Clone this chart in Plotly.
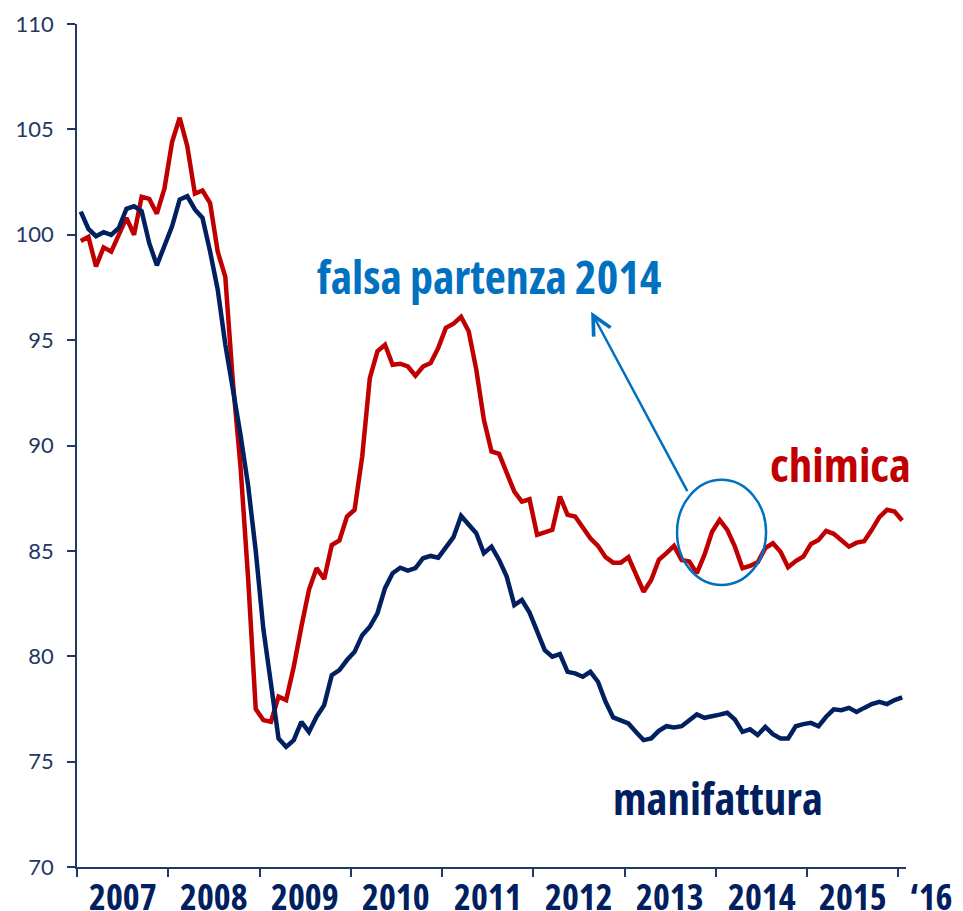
import numpy as np
import pandas as pd
import plotly.graph_objects as go

months = [p.strftime("%Y-%m") for p in pd.period_range("2007-01", "2016-01", freq="M")]

chimica = [
    99.7, 99.9, 98.5, 99.4, 99.2, 99.95, 100.8, 100.0, 101.8, 101.7, 101.0, 102.2,
    104.4, 105.55, 104.2, 101.95, 102.1, 101.5, 99.2, 98.0, 93.0, 89.0, 83.7, 77.5,
    76.97, 76.89, 78.08, 77.92, 79.5, 81.4, 83.15, 84.18, 83.67, 85.28, 85.49, 86.63,
    86.95, 89.48, 93.2, 94.47, 94.78, 93.83, 93.88, 93.75, 93.31, 93.75, 93.91, 94.63,
    95.58, 95.78, 96.1, 95.42, 93.6, 91.22, 89.72, 89.6, 88.77, 87.81, 87.34, 87.45,
    85.76, 85.87, 86.0, 87.58, 86.71, 86.63, 86.15, 85.6, 85.24, 84.7, 84.44, 84.44,
    84.7, 83.86, 83.06, 83.62, 84.57, 84.89, 85.24, 84.57, 84.49, 83.94, 84.81, 85.91,
    86.47, 86.0, 85.2, 84.18, 84.29, 84.46, 85.13, 85.36, 84.96, 84.22, 84.52, 84.73,
    85.33, 85.52, 85.95, 85.81, 85.52, 85.2, 85.39, 85.46, 86.0, 86.6, 86.95, 86.87,
    86.44,
]

manifattura = [
    101.1, 100.28, 99.93, 100.12, 99.99, 100.33, 101.23, 101.35, 101.12, 99.6, 98.55, 99.45,
    100.4, 101.67, 101.83, 101.2, 100.8, 99.2, 97.4, 94.8, 92.8, 90.5, 88.1, 85.0,
    81.3, 78.6, 76.1, 75.7, 76.02, 76.89, 76.41, 77.13, 77.68, 79.1, 79.34, 79.82,
    80.21, 81.0, 81.4, 82.04, 83.23, 83.94, 84.2, 84.06, 84.18, 84.65, 84.76, 84.68,
    85.2, 85.65, 86.66, 86.28, 85.84, 84.89, 85.2, 84.57, 83.78, 82.43, 82.67, 82.07,
    81.12, 80.29, 79.98, 80.1, 79.26, 79.19, 79.03, 79.26, 78.79, 77.84, 77.1, 76.94,
    76.81, 76.41, 76.02, 76.1, 76.46, 76.68, 76.62, 76.68, 76.97, 77.24, 77.08, 77.18,
    77.23, 77.32, 77.0, 76.41, 76.53, 76.26, 76.65, 76.3, 76.1, 76.1, 76.68, 76.78,
    76.84, 76.68, 77.13, 77.48, 77.44, 77.55, 77.36, 77.55, 77.73, 77.84, 77.73, 77.92,
    78.05,
]

year_labels = ["2007", "2008", "2009", "2010", "2011", "2012", "2013", "2014", "2015"]
last_label = "\u201816"
y_ticks = [70, 75, 80, 85, 90, 95, 100, 105, 110]

NAVY = "#002060"
RED = "#c00000"
BLUE = "#0070c0"
AXIS = "#1f3864"
COND = "Open Sans, sans-serif"


def cond(txt):
    return f"<span style='font-stretch:condensed'><b>{txt}</b></span>"


x = np.arange(len(months))

fig = go.Figure()
fig.add_trace(go.Scatter(x=x, y=chimica, mode="lines", name="chimica",
                         line=dict(color=RED, width=4.5), customdata=months))
fig.add_trace(go.Scatter(x=x, y=manifattura, mode="lines", name="manifattura",
                         line=dict(color=NAVY, width=4.5), customdata=months))

n = len(months)
year_bounds = [-0.5 + 12 * k for k in range(len(year_labels) + 1)]

fig.update_layout(
    width=955, height=903,
    margin=dict(l=69, r=57, t=16, b=44),
    paper_bgcolor="white", plot_bgcolor="white",
    showlegend=False,
    xaxis=dict(range=[-0.5, n - 0.5], showgrid=False, zeroline=False, automargin=False,
               showline=True, linecolor=AXIS, linewidth=1.5,
               tickmode="array", tickvals=year_bounds, showticklabels=False,
               ticks="outside", ticklen=8, tickwidth=1.5, tickcolor=AXIS),
    yaxis=dict(range=[70, 110], showgrid=False, zeroline=False, automargin=False,
               showline=True, linecolor=AXIS, linewidth=1.5,
               tickmode="array", tickvals=y_ticks,
               ticks="outside", ticklen=8, tickwidth=1.5, tickcolor=AXIS,
               ticklabelstandoff=9,
               tickfont=dict(family="Lato, Open Sans, sans-serif", size=22, color=AXIS)),
)

# Year labels centred between year boundaries
for k, lab in enumerate(year_labels):
    fig.add_annotation(x=5.5 + 12 * k, y=0, xref="x", yref="paper", text=cond(lab),
                       showarrow=False, xanchor="center", yanchor="middle", yshift=-29,
                       font=dict(family=COND, size=36, color=NAVY))
fig.add_annotation(x=1.058, y=0, xref="paper", yref="paper", text=cond(last_label),
                   showarrow=False, xanchor="right", yanchor="middle", yshift=-29,
                   font=dict(family=COND, size=36, color=NAVY))

# Series labels
fig.add_annotation(x=99.9, y=89.13, xref="x", yref="y", text=cond("chimica"),
                   showarrow=False, xanchor="center",
                   font=dict(family=COND, size=47, color=RED))
fig.add_annotation(x=83.8, y=73.31, xref="x", yref="y", text=cond("manifattura"),
                   showarrow=False, xanchor="center",
                   font=dict(family=COND, size=45, color=NAVY))
fig.add_annotation(x=53.7, y=98.06, xref="x", yref="y", text=cond("falsa partenza 2014"),
                   showarrow=False, xanchor="center",
                   font=dict(family=COND, size=46, color=BLUE))

# Arrow from circle to label
fig.add_annotation(x=67.1, y=96.35, xref="x", yref="y", text="",
                   showarrow=True, ax=97, ay=181, axref="pixel", ayref="pixel",
                   arrowhead=5, arrowsize=1.5, arrowwidth=2.5, arrowcolor=BLUE,
                   standoff=0, startstandoff=0)

# Ellipse around the 2014 spike
fig.add_shape(type="circle", xref="x", yref="y", x0=78.4, x1=90.1, y0=83.38, y1=88.37,
              line=dict(color=BLUE, width=2.5))

fig.write_html("out.html")
